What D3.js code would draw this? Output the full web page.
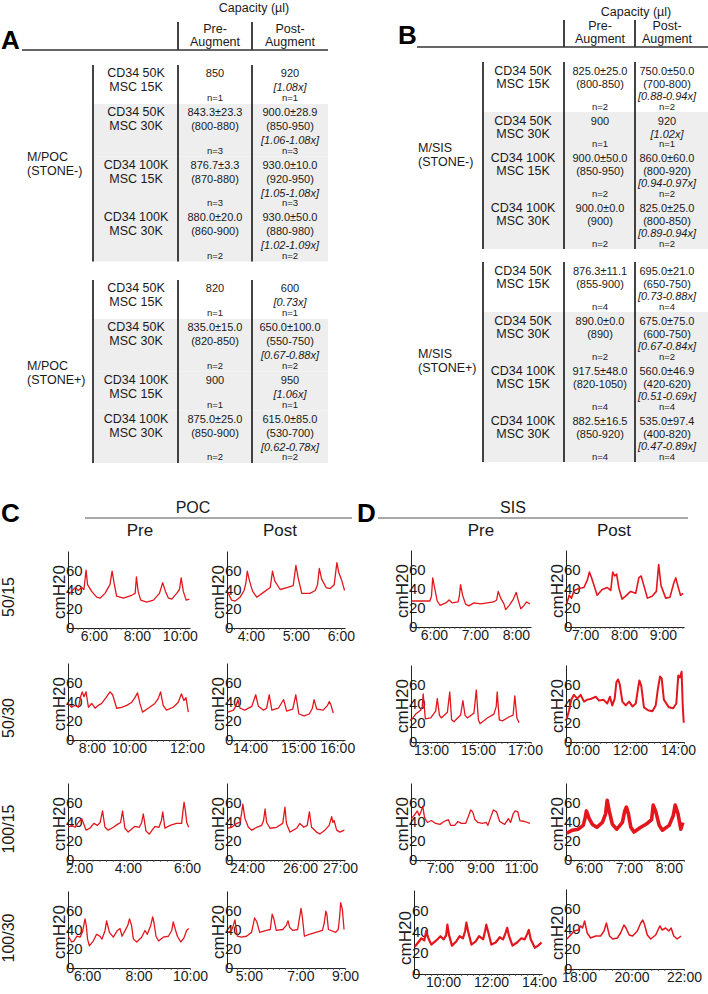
<!DOCTYPE html>
<html><head><meta charset="utf-8">
<script src="https://cdn.jsdelivr.net/npm/d3@7"></script>
<style>
html,body{margin:0;padding:0;background:#fff;}
svg{display:block;font-family:"Liberation Sans",Arial,Helvetica,sans-serif;}
</style></head><body>
<svg id="fig" width="708" height="994"></svg>
<script>
// ================= TABLE DATA =================
const capacityTitle = "Capacity (µl)";
const colHeadPre = ["Pre-", "Augment"];
const colHeadPost = ["Post-", "Augment"];
const groupsPOC = [["M/POC", "(STONE-)"], ["M/POC", "(STONE+)"]];
const groupsSIS = [["M/SIS", "(STONE-)"], ["M/SIS", "(STONE+)"]];
const cellLabels = [["CD34 50K", "MSC 15K"], ["CD34 50K", "MSC 30K"], ["CD34 100K", "MSC 15K"], ["CD34 100K", "MSC 30K"]];

const pocNegPre = [["850"], ["843.3±23.3", "(800-880)"], ["876.7±3.3", "(870-880)"], ["880.0±20.0", "(860-900)"]];
const pocNegPost = [["920", "[1.08x]"], ["900.0±28.9", "(850-950)", "[1.06-1.08x]"], ["930.0±10.0", "(920-950)", "[1.05-1.08x]"], ["930.0±50.0", "(880-980)", "[1.02-1.09x]"]];
const pocNegN = ["n=1", "n=3", "n=3", "n=2"];
const pocPosPre = [["820"], ["835.0±15.0", "(820-850)"], ["900"], ["875.0±25.0", "(850-900)"]];
const pocPosPost = [["600", "[0.73x]"], ["650.0±100.0", "(550-750)", "[0.67-0.88x]"], ["950", "[1.06x]"], ["615.0±85.0", "(530-700)", "[0.62-0.78x]"]];
const pocPosN = ["n=1", "n=2", "n=1", "n=2"];
const sisNegPre = [["825.0±25.0", "(800-850)"], ["900"], ["900.0±50.0", "(850-950)"], ["900.0±0.0", "(900)"]];
const sisNegPost = [["750.0±50.0", "(700-800)", "[0.88-0.94x]"], ["920", "[1.02x]"], ["860.0±60.0", "(800-920)", "[0.94-0.97x]"], ["825.0±25.0", "(800-850)", "[0.89-0.94x]"]];
const sisNegN = ["n=2", "n=1", "n=2", "n=2"];
const sisPosPre = [["876.3±11.1", "(855-900)"], ["890.0±0.0", "(890)"], ["917.5±48.0", "(820-1050)"], ["882.5±16.5", "(850-920)"]];
const sisPosPost = [["695.0±21.0", "(650-750)", "[0.73-0.88x]"], ["675.0±75.0", "(600-750)", "[0.67-0.84x]"], ["560.0±46.9", "(420-620)", "[0.51-0.69x]"], ["535.0±97.4", "(400-820)", "[0.47-0.89x]"]];
const sisPosN = ["n=4", "n=2", "n=4", "n=4"];

// ================= TRACE DATA (hour, cmH2O) =================
const rowLabels = ["50/15", "50/30", "100/15", "100/30"];
const subHeads = ["Pre", "Post"];
const yTickValues = [0, 20, 40, 60];

// ---- POC (panel C) ----
const pocPre1 = [[4.83,35],[4.97,38],[5.13,42],[5.28,39],[5.44,42],[5.54,40],[5.64,60],[5.71,45],[5.90,38],[6.13,32],[6.29,31],[6.52,36],[6.75,45],[6.85,59],[6.94,47],[7.06,33],[7.37,31],[7.76,34],[7.92,36],[7.98,53],[8.06,38],[8.18,29],[8.46,27],[8.77,29],[9.05,36],[9.20,47],[9.33,38],[9.47,31],[9.62,30],[9.85,36],[9.98,40],[10.06,52],[10.16,38],[10.29,29],[10.44,30]];
const pocPre1Ticks = [[6,"6:00"],[8,"8:00"],[10,"10:00"]];
const pocPre1Span = [4.8, 10.47];
const pocPost1 = [[3.48,38],[3.57,29],[3.65,28],[3.76,32],[3.85,39],[3.89,47],[3.92,59],[3.97,49],[4.04,38],[4.13,32],[4.28,37],[4.43,42],[4.48,59],[4.53,49],[4.65,40],[4.80,42],[4.94,44],[5.00,65],[5.05,52],[5.13,36],[5.31,36],[5.43,39],[5.48,45],[5.52,62],[5.57,51],[5.67,42],[5.76,41],[5.85,45],[5.91,68],[5.95,58],[6.02,49],[6.08,39]];
const pocPost1Ticks = [[4,"4:00"],[5,"5:00"],[6,"6:00"]];
const pocPost1Span = [3.47, 6.09];

const pocPre2 = [[7.00,38],[7.14,34],[7.28,36],[7.43,34],[7.52,45],[7.59,50],[7.66,45],[7.75,50],[7.85,34],[7.99,38],[8.13,33],[8.27,36],[8.41,38],[8.59,44],[8.76,50],[8.87,47],[9.04,33],[9.25,34],[9.46,36],[9.67,39],[9.81,44],[9.92,49],[10.02,38],[10.13,29],[10.37,33],[10.65,38],[10.79,43],[10.89,50],[11.00,36],[11.14,31],[11.42,34],[11.63,39],[11.77,48],[11.87,41],[11.96,44],[12.06,29]];
const pocPre2Ticks = [[8,"8:00"],[9.56,"10:00"],[12,"12:00"]];
const pocPre2Span = [6.99, 12.13];
const pocPost2 = [[13.49,29],[13.62,31],[13.68,36],[13.72,42],[13.77,33],[13.88,31],[14.04,35],[14.13,47],[14.19,35],[14.31,31],[14.38,33],[14.44,47],[14.50,31],[14.65,33],[14.73,39],[14.77,42],[14.84,30],[14.98,32],[15.05,47],[15.12,27],[15.24,25],[15.36,27],[15.43,33],[15.47,42],[15.53,32],[15.68,31],[15.78,36],[15.82,40],[15.86,36],[15.91,28]];
const pocPost2Ticks = [[14,"14:00"],[15.1,"15:00"],[16,"16:00"]];
const pocPost2Span = [13.47, 16.18];

const pocPre3 = [[1.60,34],[1.73,36],[1.85,34],[2.00,40],[2.10,43],[2.26,31],[2.40,33],[2.55,38],[2.68,36],[2.78,39],[2.87,51],[2.96,34],[3.08,31],[3.27,34],[3.42,37],[3.54,39],[3.61,51],[3.70,33],[3.82,29],[4.07,35],[4.23,34],[4.32,39],[4.38,48],[4.48,30],[4.60,27],[4.81,35],[4.96,34],[5.05,41],[5.10,50],[5.18,33],[5.37,36],[5.61,38],[5.80,38],[5.85,51],[5.89,60],[5.94,51],[5.99,39],[6.06,34]];
const pocPre3Ticks = [[2,"2:00"],[3.81,"4:00"],[6,"6:00"]];
const pocPre3Span = [1.59, 6.11];
const pocPost3 = [[23.37,33],[23.50,34],[23.66,38],[23.77,39],[23.81,46],[23.86,58],[23.93,43],[24.04,34],[24.15,31],[24.31,34],[24.47,36],[24.53,41],[24.58,53],[24.63,39],[24.74,33],[24.95,34],[25.15,38],[25.22,55],[25.27,38],[25.38,29],[25.60,33],[25.70,38],[25.83,34],[25.94,36],[26.01,50],[26.08,34],[26.24,29],[26.35,27],[26.51,31],[26.65,36],[26.73,45],[26.77,39],[26.81,41],[26.89,31],[26.99,29],[27.14,31]];
const pocPost3Ticks = [[24,"24:00"],[25.71,"26:00"],[27,"27:00"]];
const pocPost3Span = [23.35, 27.16];

const pocPre4 = [[5.27,33],[5.40,27],[5.49,28],[5.60,33],[5.73,32],[5.83,38],[5.92,51],[5.97,44],[6.02,30],[6.09,23],[6.24,28],[6.37,35],[6.50,33],[6.58,30],[6.70,39],[6.76,49],[6.87,37],[7.02,32],[7.18,39],[7.28,41],[7.36,33],[7.58,44],[7.65,51],[7.73,44],[7.80,30],[7.93,27],[8.12,32],[8.25,39],[8.34,35],[8.47,44],[8.55,53],[8.60,47],[8.68,33],[8.78,28],[8.96,32],[9.16,33],[9.29,39],[9.35,48],[9.43,40],[9.51,33],[9.64,27],[9.76,31],[9.87,39],[9.95,41]];
const pocPre4Ticks = [[6,"6:00"],[8,"8:00"],[10,"10:00"]];
const pocPre4Span = [5.26, 10.0];
const pocPost4 = [[4.12,37],[4.28,39],[4.35,44],[4.42,50],[4.52,33],[4.69,32],[4.90,33],[5.11,37],[5.18,45],[5.24,52],[5.33,48],[5.45,37],[5.73,39],[5.89,40],[5.97,56],[6.04,51],[6.14,39],[6.41,40],[6.55,44],[6.63,49],[6.70,42],[6.83,39],[7.03,40],[7.10,51],[7.17,62],[7.22,54],[7.31,33],[7.51,35],[7.79,37],[8.06,39],[8.14,47],[8.20,59],[8.25,55],[8.31,40],[8.61,37],[8.72,40],[8.78,54],[8.82,68],[8.89,61],[8.96,40]];
const pocPost4Ticks = [[5,"5:00"],[7.14,"7:00"],[9,"9:00"]];
const pocPost4Span = [4.09, 9.0];

// ---- SIS (panel D) ----
const sisPre1 = [[5.45,27],[5.90,27],[5.94,32],[5.97,51],[6.02,40],[6.08,27],[6.15,22.5],[6.29,25],[6.37,28],[6.45,25],[6.59,26],[6.62,32],[6.65,44],[6.70,33],[6.77,24],[6.85,22],[6.98,25],[7.14,24],[7.30,25],[7.46,26],[7.53,28],[7.57,37],[7.63,30],[7.71,24],[7.75,18],[7.84,22.5],[7.94,29],[8.01,36],[8.05,29],[8.12,19],[8.20,22.5],[8.26,26],[8.34,24]];
const sisPre1Ticks = [[6,"6:00"],[7,"7:00"],[8,"8:00"]];
const sisPre1Span = [5.44, 8.37];
const sisPost1 = [[6.53,24],[6.59,33],[6.65,30],[6.72,38],[6.84,40],[6.97,41],[7.06,49],[7.11,57],[7.16,52],[7.23,43],[7.31,33],[7.44,39],[7.57,41],[7.66,38],[7.71,57],[7.76,53],[7.81,55],[7.87,40],[7.95,29],[8.04,32],[8.17,37],[8.30,35],[8.38,51],[8.44,53],[8.51,43],[8.60,30],[8.72,32],[8.83,37],[8.89,65],[8.95,43],[9.07,30],[9.18,31],[9.28,46],[9.33,51],[9.38,43],[9.45,33],[9.52,35]];
const sisPost1Ticks = [[7,"7:00"],[8,"8:00"],[9,"9:00"]];
const sisPost1Span = [6.51, 9.54];

const sisPre2 = [[12.16,23],[12.35,29],[12.56,33],[12.63,37],[12.67,50],[12.76,24],[12.99,25],[13.20,32],[13.27,45],[13.36,28],[13.44,25],[13.70,31],[13.80,52],[13.88,23],[13.98,21],[14.26,28],[14.36,43],[14.45,28],[14.55,25],[14.83,30],[14.93,54],[15.02,23],[15.09,19],[15.40,25],[15.68,29],[15.78,37],[15.82,52],[15.91,23],[16.04,22],[16.32,26],[16.50,28],[16.57,48],[16.66,25],[16.75,20]];
const sisPre2Ticks = [[13,"13:00"],[15,"15:00"],[17,"17:00"]];
const sisPre2Span = [12.15, 17.26];
const sisPost2 = [[9.36,24],[9.46,33],[9.55,44],[9.66,49],[9.80,45],[9.94,49],[10.08,42],[10.22,44],[10.39,45],[10.57,47],[10.71,43],[10.89,44],[11.05,40],[11.16,47],[11.26,38],[11.36,45],[11.43,62],[11.50,65],[11.57,60],[11.68,42],[11.82,38],[11.96,42],[12.10,37],[12.24,40],[12.33,55],[12.39,64],[12.47,58],[12.58,36],[12.75,33],[12.93,32],[13.07,38],[13.16,55],[13.25,68],[13.32,66],[13.41,44],[13.62,36],[13.80,35],[13.93,40],[14.01,69],[14.08,67],[14.15,73],[14.20,36],[14.24,20]];
const sisPost2Ticks = [[10,"10:00"],[12,"12:00"],[14,"14:00"]];
const sisPost2Span = [9.33, 14.25];

const sisPre3 = [[5.59,43],[5.75,47],[5.88,51],[5.98,46],[6.06,50],[6.15,56],[6.24,44],[6.38,39],[6.57,41],[6.79,38],[7.00,37],[7.20,40],[7.41,42],[7.53,36],[7.73,36],[7.89,40],[8.06,38],[8.27,38],[8.40,45],[8.52,52],[8.62,50],[8.73,42],[8.88,39],[9.09,38],[9.29,39],[9.37,36],[9.50,44],[9.64,52],[9.80,50],[9.95,40],[10.20,37],[10.38,43],[10.49,39],[10.62,48],[10.72,51],[10.85,50],[10.95,41],[11.18,40],[11.45,38]];
const sisPre3Ticks = [[7,"7:00"],[9,"9:00"],[11,"11:00"]];
const sisPre3Span = [5.57, 11.5];
const sisPost3 = [[5.45,28],[5.59,31],[5.73,32],[5.86,36],[5.91,44],[5.94,51],[6.01,43],[6.09,37],[6.20,34],[6.34,39],[6.42,48],[6.46,62],[6.51,51],[6.59,37],[6.70,32],[6.84,39],[6.90,51],[6.94,55],[6.99,48],[7.05,34],[7.13,29],[7.30,34],[7.46,38],[7.57,42],[7.61,57],[7.67,51],[7.76,36],[7.84,31],[8.01,36],[8.11,46],[8.16,57],[8.23,48],[8.30,32],[8.35,39]];
const sisPost3Ticks = [[6,"6:00"],[7,"7:00"],[8,"8:00"]];
const sisPost3Span = [5.43, 8.38];

const sisPre4 = [[8.82,26],[8.96,30],[9.10,34],[9.22,32],[9.30,41],[9.39,34],[9.51,28],[9.72,32],[9.89,36],[10.03,33],[10.13,37],[10.18,47],[10.25,37],[10.37,27],[10.55,31],[10.69,36],[10.83,34],[10.92,41],[10.97,49],[11.04,41],[11.18,28],[11.36,31],[11.50,36],[11.67,33],[11.75,41],[11.80,47],[11.89,39],[12.01,28],[12.19,30],[12.36,35],[12.50,33],[12.60,39],[12.67,44],[12.75,36],[12.89,27],[13.08,30],[13.26,34],[13.40,33],[13.50,38],[13.57,42],[13.65,33],[13.82,25],[13.96,27],[14.10,30]];
const sisPre4Ticks = [[10,"10:00"],[12,"12:00"],[14,"14:00"]];
const sisPre4Span = [8.79, 14.12];
const sisPost4 = [[17.53,30],[17.68,34],[17.80,38],[17.96,39],[18.06,43],[18.13,41],[18.21,48],[18.31,36],[18.44,31],[18.63,33],[18.82,33],[18.95,38],[19.04,46],[19.16,33],[19.28,30],[19.46,31],[19.58,36],[19.71,44],[19.79,41],[19.91,34],[20.04,33],[20.22,38],[20.35,46],[20.43,49],[20.50,44],[20.60,34],[20.73,30],[20.92,34],[21.08,43],[21.17,39],[21.30,41],[21.42,38],[21.51,41],[21.61,33],[21.74,30],[21.89,33]];
const sisPost4Ticks = [[18,"18:00"],[20,"20:00"],[22,"22:00"]];
const sisPost4Span = [17.5, 22.0];

// ================= LAYOUT (positions / styles) =================
const INK = "#1a1a1a";
const RED = "#e3161d";
const FONT = '"Liberation Sans", Arial, Helvetica, sans-serif';
const svg = d3.select("#fig");

const layoutA = {letter:"A", letterX:1, letterY:49, titleX:254, titleY:12, headY:[33,46], ruleY:50, ruleX:[22,328],
  headLine:[22,50], xLab:93, xPre:178, xPost:252, xRight:328, cLab:136, cPre:215, cPost:290, groupX:27,
  tops:[65,280], h2:39, h3:52.5, off:[12,26,40], nOff:-3, gy:[-2,12]};
const layoutB = {letter:"B", letterX:398, letterY:44, titleX:636, titleY:16, headY:[30,43], ruleY:47, ruleX:[417,708],
  headLine:[20,47], xLab:483, xPre:564, xPost:635, xRight:708, cLab:523, cPre:600, cPost:667, groupX:418,
  tops:[62,262], h2:37, h3:50, off:[13,26,38], nOff:-2, gy:[-4,10]};

function txt(g, x, y, s, size, opts = {}) {
  return g.append("text").attr("x", x).attr("y", y).text(s)
    .attr("font-size", size).attr("fill", INK)
    .attr("text-anchor", opts.anchor || "middle")
    .attr("font-weight", opts.weight || null)
    .attr("font-style", opts.italic ? "italic" : null);
}
function vline(g, x, y1, y2, w = 1.7, c = "#222") {
  g.append("line").attr("x1", x).attr("x2", x).attr("y1", y1).attr("y2", y2).attr("stroke", c).attr("stroke-width", w);
}

function drawTable(L, groups, blocks) {
  const g = svg.append("g");
  txt(g, L.letterX, L.letterY, L.letter, 26, {anchor:"start", weight:"bold"}).attr("fill", "#000");
  txt(g, L.titleX, L.titleY, capacityTitle, 12.5);
  [[L.cPre, colHeadPre], [L.cPost, colHeadPost]].forEach(([cx, lines]) =>
    lines.forEach((t, i) => txt(g, cx, L.headY[i], t, 12.5)));
  [L.xPre, L.xPost].forEach(x => vline(g, x, L.headLine[0], L.headLine[1]));
  g.append("line").attr("x1", L.ruleX[0]).attr("x2", L.ruleX[1]).attr("y1", L.ruleY).attr("y2", L.ruleY)
    .attr("stroke", "#333").attr("stroke-width", 1.5);

  blocks.forEach((b, bi) => {
    let top = L.tops[bi];
    const tableTop = top;
    const rows = b.post.map((p, i) => ({pre: b.pre[i], post: p, n: b.n[i], cell: cellLabels[i]}));
    let t2 = top;
    rows.forEach((r, i) => {
      const h = r.post.length === 3 ? L.h3 : L.h2;
      if (i > 0) g.append("rect").attr("x", L.xLab).attr("y", t2).attr("width", L.xRight - L.xLab).attr("height", h).attr("fill", "#eeeeee");
      t2 += h;
    });
    rows.forEach((r) => {
      const h = r.post.length === 3 ? L.h3 : L.h2;
      r.cell.forEach((t, k) => txt(g, L.cLab, top + L.off[k], t, 12.5));
      r.pre.forEach((t, k) => txt(g, L.cPre, top + L.off[k], t, 11));
      r.post.forEach((t, k) => txt(g, L.cPost, top + L.off[k], t, 11, {italic: t.startsWith("[")}));
      txt(g, L.cPre, top + h + L.nOff, r.n, 9.5);
      txt(g, L.cPost, top + h + L.nOff, r.n, 9.5);
      top += h;
    });
    [L.xLab, L.xPre, L.xPost].forEach(x => vline(g, x, tableTop, top));
    const mid = (tableTop + top) / 2;
    groups[bi].forEach((t, k) => txt(g, L.groupX, mid + L.gy[k], t, 12.5, {anchor: "start"}));
  });
}

drawTable(layoutA, groupsPOC, [{pre: pocNegPre, post: pocNegPost, n: pocNegN}, {pre: pocPosPre, post: pocPosPost, n: pocPosN}]);
drawTable(layoutB, groupsSIS, [{pre: sisNegPre, post: sisNegPost, n: sisNegN}, {pre: sisPosPre, post: sisPosPost, n: sisPosN}]);

// ---------- Panel C / D headers ----------
const panelHeads = [
  {letter:"C", title:"POC", letterX:1, letterY:522, titleX:193, titleY:513, rule:[85,352], ruleY:518, sub:[140,280], subY:536},
  {letter:"D", title:"SIS", letterX:357, letterY:522, titleX:513, titleY:513, rule:[378,688], ruleY:518, sub:[481,614], subY:536}
];
panelHeads.forEach(p => {
  const g = svg.append("g");
  txt(g, p.letterX, p.letterY, p.letter, 26, {anchor:"start", weight:"bold"}).attr("fill", "#000");
  txt(g, p.titleX, p.titleY, p.title, 16);
  g.append("line").attr("x1", p.rule[0]).attr("x2", p.rule[1]).attr("y1", p.ruleY).attr("y2", p.ruleY)
    .attr("stroke", "#555").attr("stroke-width", 1.2);
  subHeads.forEach((s, i) => txt(g, p.sub[i], p.subY, s, 17));
});

// row labels
const rowLabelY = [597, 718, 829, 938];
rowLabels.forEach((s, i) => {
  svg.append("text").attr("transform", `translate(14,${rowLabelY[i]}) rotate(-90)`)
    .attr("text-anchor", "middle").attr("font-size", 16).attr("fill", INK).text(s);
});

// ---------- Charts ----------
const colLayout = [{x0:68, w:122}, {x0:227, w:118}, {x0:411, w:120}, {x0:566, w:118}];
const rowY = {C:[628, 740, 860, 968], D:[627, 742, 860, 973]};
const charts = [
  {s:pocPre1, t:pocPre1Ticks, d:pocPre1Span, row:0, col:0},
  {s:pocPost1, t:pocPost1Ticks, d:pocPost1Span, row:0, col:1},
  {s:sisPre1, t:sisPre1Ticks, d:sisPre1Span, row:0, col:2},
  {s:sisPost1, t:sisPost1Ticks, d:sisPost1Span, row:0, col:3, lw:1.6},
  {s:pocPre2, t:pocPre2Ticks, d:pocPre2Span, row:1, col:0},
  {s:pocPost2, t:pocPost2Ticks, d:pocPost2Span, row:1, col:1},
  {s:sisPre2, t:sisPre2Ticks, d:sisPre2Span, row:1, col:2},
  {s:sisPost2, t:sisPost2Ticks, d:sisPost2Span, row:1, col:3, lw:2},
  {s:pocPre3, t:pocPre3Ticks, d:pocPre3Span, row:2, col:0},
  {s:pocPost3, t:pocPost3Ticks, d:pocPost3Span, row:2, col:1},
  {s:sisPre3, t:sisPre3Ticks, d:sisPre3Span, row:2, col:2},
  {s:sisPost3, t:sisPost3Ticks, d:sisPost3Span, row:2, col:3, lw:3.6},
  {s:pocPre4, t:pocPre4Ticks, d:pocPre4Span, row:3, col:0},
  {s:pocPost4, t:pocPost4Ticks, d:pocPost4Span, row:3, col:1},
  {s:sisPre4, t:sisPre4Ticks, d:sisPre4Span, row:3, col:2, lw:2.2, x0:414, w:128, y0:974, h:84},
  {s:sisPost4, t:sisPost4Ticks, d:sisPost4Span, row:3, col:3, lw:1.5, y0:969, h:80}
];

charts.forEach(c => {
  const cl = colLayout[c.col];
  const x0 = c.x0 ?? cl.x0, w = c.w ?? cl.w;
  const y0 = c.y0 ?? rowY[c.col < 2 ? "C" : "D"][c.row];
  const h = c.h ?? 77;
  const x = d3.scaleLinear().domain(c.d).range([x0, x0 + w]);
  const y = d3.scaleLinear().domain([0, 80]).range([y0, y0 - h]);
  const g = svg.append("g");

  const pxh = w / (c.d[1] - c.d[0]);
  const steps = [0.125, 0.25, 0.5];
  const step = steps.reduce((a, b) => Math.abs(b * pxh - 5.5) < Math.abs(a * pxh - 5.5) ? b : a);
  const minor = d3.range(Math.ceil(c.d[0] / step) * step, c.d[1] + 1e-9, step);
  const axMinor = g.append("g").attr("transform", `translate(0,${y0})`)
    .call(d3.axisBottom(x).tickValues(minor).tickSize(2).tickSizeOuter(0).tickFormat(""));
  axMinor.select(".domain").attr("stroke", "#222").attr("stroke-width", 1);
  axMinor.selectAll(".tick line").attr("stroke", "#444").attr("stroke-width", 0.8);

  const labels = new Map(c.t.map(([v, l]) => [v, l]));
  const axMajor = g.append("g").attr("transform", `translate(0,${y0})`)
    .call(d3.axisBottom(x).tickValues(c.t.map(d => d[0])).tickSize(0).tickPadding(3).tickFormat(v => labels.get(v)));
  axMajor.select(".domain").remove();
  axMajor.selectAll("text").attr("font-size", 14).attr("font-family", FONT).attr("fill", INK);

  const axY = g.append("g").attr("transform", `translate(${x0},0)`)
    .call(d3.axisRight(y).tickValues(yTickValues).tickSize(0).tickSizeOuter(0).tickPadding(-2).tickFormat(d3.format("d")));
  axY.select(".domain").attr("stroke", "#222").attr("stroke-width", 1);
  axY.selectAll("text").attr("font-size", 15).attr("font-family", FONT).attr("fill", INK);

  g.append("text").attr("transform", `translate(${x0 - 3},${y0 - 36}) rotate(-90)`)
    .attr("text-anchor", "middle").attr("font-size", 17).attr("fill", INK).text("cmH20");

  g.append("path").datum(c.s)
    .attr("fill", "none").attr("stroke", RED).attr("stroke-width", c.lw || 1.3)
    .attr("stroke-linejoin", "round")
    .attr("d", d3.line().x(d => x(d[0])).y(d => y(d[1])));
});
</script>
</body></html>
